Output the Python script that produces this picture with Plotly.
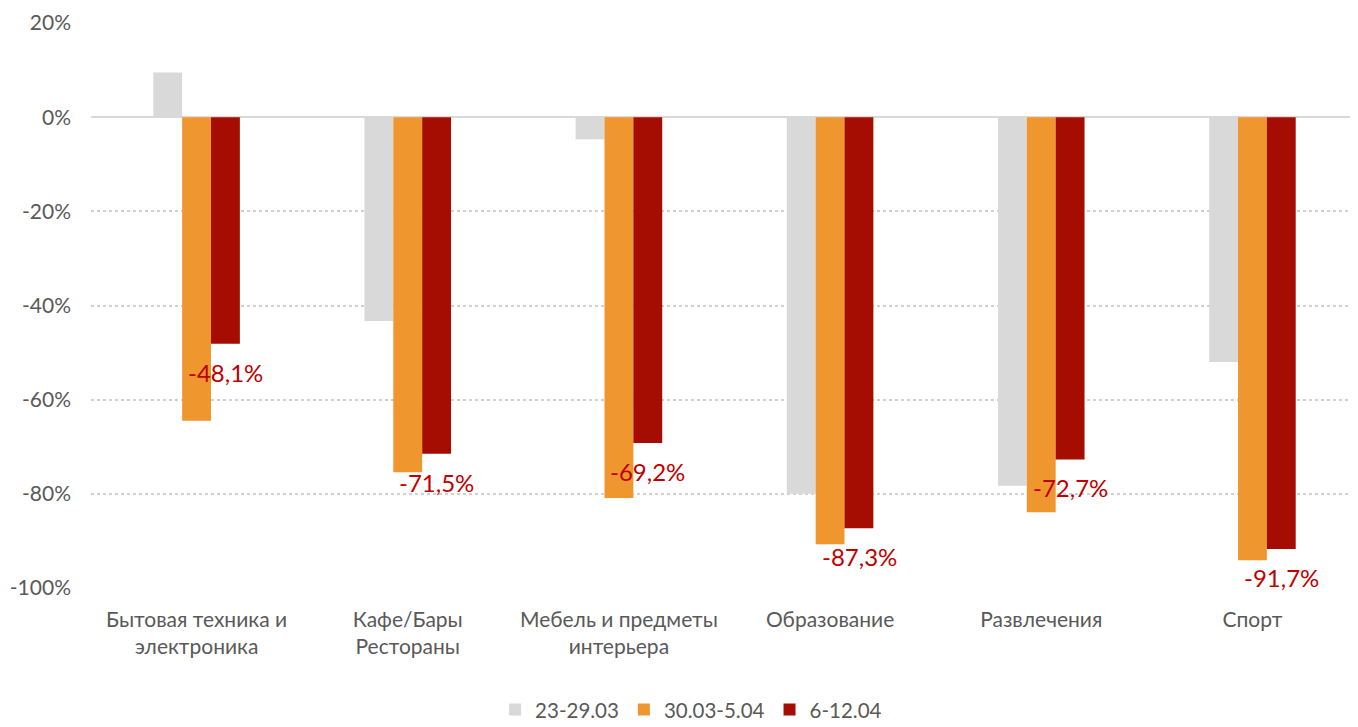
import plotly.graph_objects as go

categories = ["Бытовая техника и<br>электроника", "Кафе/Бары<br>Рестораны", "Мебель и предметы<br>интерьера",
              "Образование", "Развлечения", "Спорт"]
series_names = ["23-29.03", "30.03-5.04", "6-12.04"]
s1 = [9.5, -43.3, -4.7, -80.0, -78.3, -52.0]
s2 = [-64.5, -75.4, -80.9, -90.7, -83.9, -94.1]
s3 = [-48.1, -71.5, -69.2, -87.3, -72.7, -91.7]
labels3 = ["-48,1%", "-71,5%", "-69,2%", "-87,3%", "-72,7%", "-91,7%"]
tick_vals = [20, 0, -20, -40, -60, -80, -100]
tick_text = ["20%", "0%", "-20%", "-40%", "-60%", "-80%", "-100%"]

colors = ["#d9d9d9", "#ef962e", "#a50d02"]
FONT = "Lato, Noto Sans, sans-serif"

fig = go.Figure()
for name, vals, c in zip(series_names, [s1, s2, s3], colors):
    fig.add_trace(go.Bar(x=categories, y=vals, name=name, marker=dict(color=c, line=dict(width=0)),
                         hoverinfo="skip"))

for cat, v, t in zip(categories, s3, labels3):
    fig.add_annotation(x=cat, y=v, xref="x", yref="y", text=t, showarrow=False,
                       xshift=29, yshift=-12, yanchor="top",
                       font=dict(family=FONT, size=24, color="#c00000"))

fig.update_layout(
    width=1350, height=719,
    margin=dict(l=83, r=0, t=15, b=139),
    paper_bgcolor="white", plot_bgcolor="white",
    barmode="group", bargap=0.59, bargroupgap=0,
    font=dict(family=FONT, size=21, color="#595959"),
    showlegend=True,
    legend=dict(orientation="h", xref="container", x=0.506, xanchor="center",
                yref="container", y=0.024, yanchor="middle",
                font=dict(family=FONT, size=20.5, color="#595959"),
                itemwidth=30, traceorder="normal"),
    xaxis=dict(showgrid=False, showline=False, ticks="", tickfont=dict(size=21, color="#595959"),
               ticklabelstandoff=17, fixedrange=True),
    yaxis=dict(range=[-100, 20], tickvals=tick_vals, ticktext=tick_text,
               showgrid=True, gridcolor="#d0d0d0", griddash="dot", gridwidth=1.5,
               zeroline=True, zerolinecolor="#d9d9d9", zerolinewidth=2,
               showline=False, ticks="", ticklen=0, tickfont=dict(size=21, color="#595959"),
               ticklabelstandoff=19, automargin=False, fixedrange=True),
)

fig.write_html("out.html")
